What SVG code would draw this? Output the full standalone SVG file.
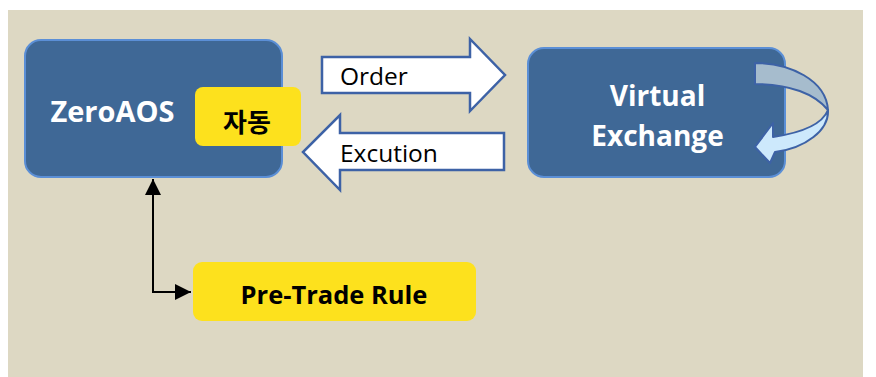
<svg xmlns="http://www.w3.org/2000/svg" width="876" height="377" viewBox="0 0 876 377">
  <defs>
    <style>
      .box { fill: #3f6896; stroke: #5b8fd6; stroke-width: 2; }
      .tag { fill: #fde11d; }
      .big { fill: #ffffff; stroke: #3d62a6; stroke-width: 2.5; stroke-linejoin: miter; }
      .wt { font-family: "Open Sans", "Noto Sans", "Noto Sans CJK KR", sans-serif; font-weight: bold; fill: #ffffff; }
      .bt { font-family: "Open Sans", "Noto Sans", "Noto Sans CJK KR", sans-serif; font-weight: bold; fill: #000000; }
      .lbl { font-family: "Open Sans", "Noto Sans", sans-serif; fill: #000000; font-size: 24.5px; }
      .conn { fill: none; stroke: #000000; stroke-width: 2; }
    </style>
    <marker id="ah" viewBox="0 0 10 10" refX="10" refY="5" markerWidth="8" markerHeight="8" markerUnits="strokeWidth" orient="auto-start-reverse">
      <path d="M0,0 L10,5 L0,10 Z" fill="#000000"/>
    </marker>
  </defs>

  <rect x="0" y="0" width="876" height="377" fill="#ffffff"/>
  <rect x="8" y="10" width="855" height="367" fill="#ddd8c3"/>

  <g id="connectors">
    <path class="conn" d="M153,293 L153,179" marker-end="url(#ah)"/>
    <path class="conn" d="M153,292 L191,292" marker-end="url(#ah)"/>
  </g>

  <g id="order-arrow">
    <polygon class="big" points="322,57 470,57 470,39 505,75 470,111 470,93 322,93"/>
    <text class="lbl" x="340" y="85">Order</text>
  </g>

  <g id="excution-arrow">
    <polygon class="big" points="504,133 340,133 340,115 303,152 340,190 340,170 504,170"/>
    <text class="lbl" x="340" y="162">Excution</text>
  </g>

  <g id="zeroaos">
    <rect class="box" x="25" y="40" width="257" height="137" rx="16" ry="16"/>
    <text class="wt" x="112.5" y="122" font-size="29" text-anchor="middle">ZeroAOS</text>
  </g>

  <g id="auto">
    <rect class="tag" x="195" y="87" width="106" height="59" rx="8" ry="8"/>
    <text class="bt" x="247" y="132" font-size="26" text-anchor="middle" style="font-family:'Noto Sans CJK KR', sans-serif">자동</text>
  </g>

  <g id="virtual-exchange">
    <rect class="box" x="528" y="48" width="257" height="129" rx="16" ry="16"/>
    <text class="wt" x="657.5" y="106" font-size="28" text-anchor="middle">Virtual</text>
    <text class="wt" x="657.5" y="146" font-size="28" text-anchor="middle">Exchange</text>
    <path d="M755,63 C790,63 826,80 828,110 C815,94 790,84 755,84 Z" fill="#a6bccd" stroke="#3d62a6" stroke-width="2" stroke-linejoin="round"/>
    <path d="M828,110 C829,130 806,148 775,152 L770,163 L755,147 L773,123 L773,137 C800,133 822,125 828,110 Z" fill="#cde9fc" stroke="#3d62a6" stroke-width="2" stroke-linejoin="round"/>
  </g>

  <g id="pre-trade-rule">
    <rect class="tag" x="193" y="262" width="283" height="59" rx="9" ry="9"/>
    <text class="bt" x="334" y="304" font-size="25.5" text-anchor="middle">Pre-Trade Rule</text>
  </g>
</svg>
